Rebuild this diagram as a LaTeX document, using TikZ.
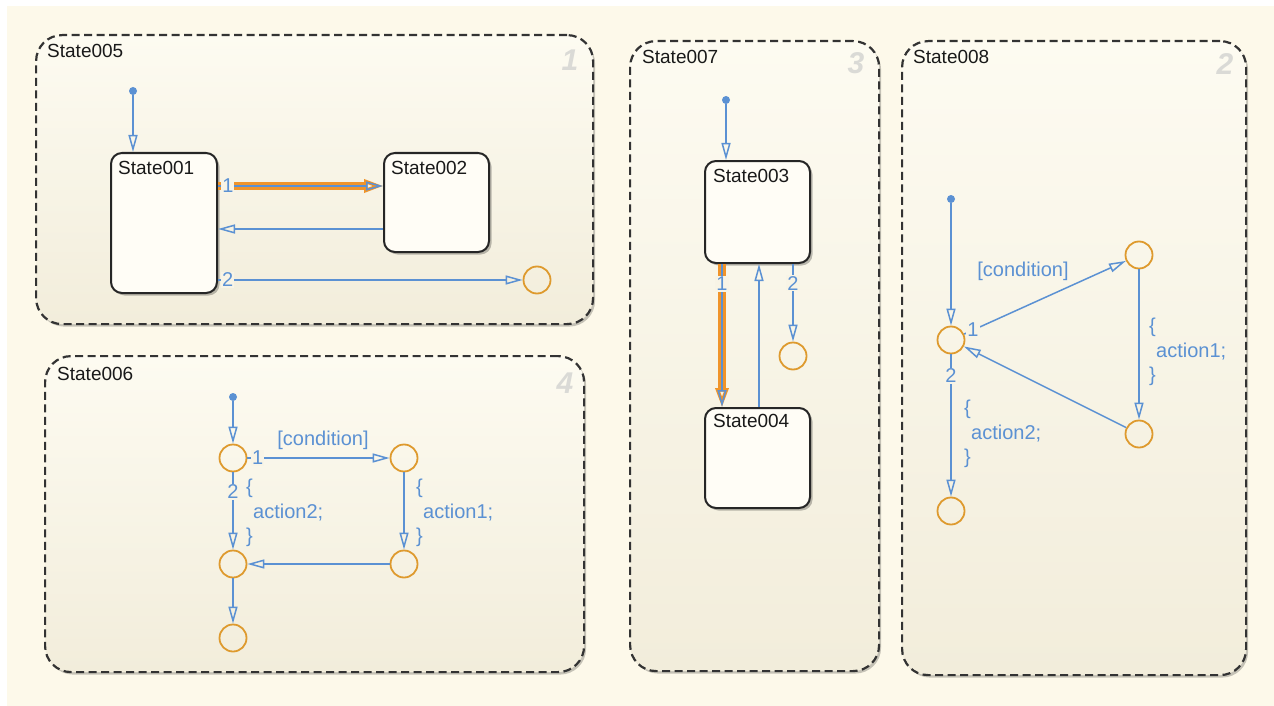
\documentclass[tikz,border=0pt]{standalone}
\usepackage{fontspec}
\setmainfont{Liberation Sans}
\usetikzlibrary{arrows.meta,shadows,calc}
\definecolor{bgc}{HTML}{FDF9EA}
\definecolor{ctop}{HTML}{FDFBF1}
\definecolor{cbot}{HTML}{F2EDDB}
\definecolor{sfill}{HTML}{FFFDF6}
\definecolor{tblue}{HTML}{5B91D3}
\definecolor{jor}{HTML}{DE9A2E}
\definecolor{hor}{HTML}{F0942A}
\definecolor{numgray}{HTML}{DADAD6}
\tikzset{
  container/.style={draw=black!80, line width=2.2pt, dash pattern=on 8pt off 4.5pt,
    rounded corners=26pt, top color=ctop, bottom color=cbot, anchor=north west,
    inner sep=0pt, drop shadow={shadow xshift=2pt, shadow yshift=-2.5pt, opacity=0.22, fill=black}},
  stbox/.style={draw=black!85, line width=2pt, rounded corners=11pt, fill=sfill,
    anchor=north west, inner sep=0pt,
    drop shadow={shadow xshift=2.5pt, shadow yshift=-2.5pt, opacity=0.25, fill=black}},
  stname/.style={anchor=base west, inner sep=0pt, font=\fontsize{19}{23}\selectfont, text=black!90},
  cnum/.style={font=\fontsize{30}{30}\selectfont\bfseries\itshape, text=numgray, inner sep=0pt},
  junc/.style={circle, draw=jor, line width=1.8pt, minimum size=27pt, inner sep=0pt},
  idot/.style={circle, fill=tblue, minimum size=8pt, inner sep=0pt},
  tr/.style={draw=tblue, line width=1.5pt, -{Triangle[open, length=17pt, width=9pt]}},
  hl/.style={draw=hor, line width=8pt, -{Triangle[open, length=19pt, width=13pt, line width=3.5pt]}},
  tlab/.style={text=tblue, font=\fontsize{20}{25}\selectfont, inner sep=1pt, fill=ctop!50!cbot},
  blab/.style={text=tblue, font=\fontsize{20}{24.5}\selectfont, inner sep=0pt, align=left, anchor=north west},
}
\begin{document}
\begin{tikzpicture}[x=1pt, y=-1pt]
\useasboundingbox (0,0) rectangle (1274,706);
\fill[bgc] (7,6) rectangle (1274,706);

% containers
\node[container, minimum width=557pt, minimum height=289pt] (st5) at (35,34) {};
\node[container, minimum width=539pt, minimum height=316pt] (st6) at (44,355) {};
\node[container, minimum width=249pt, minimum height=630pt] (st7) at (629,40) {};
\node[container, minimum width=344pt, minimum height=634pt] (st8) at (901,40) {};

\node[stname] (t5) at (47,58) {State005};
\node[stname] (t6) at (57,380) {State006};
\node[stname] (t7) at (642,64) {State007};
\node[stname] (t8) at (913,64) {State008};

\node[cnum] (n5) at (570,60) {1};
\node[cnum] (n6) at (565,383) {4};
\node[cnum] (n7) at (856,63) {3};
\node[cnum] (n8) at (1225,64) {2};

% ---- State005
\node[stbox, minimum width=106pt, minimum height=140pt] (s1) at (110,152) {};
\node[stbox, minimum width=105pt, minimum height=99pt] (s2) at (383,152) {};
\node[stname] (t1) at (118,174) {State001};
\node[stname] (t2) at (391,174) {State002};
\node[idot] (d5) at (133,91) {};
\node[junc] (c5) at (537,280) {};
\draw[tr] (d5) -- (d5 |- s1.north);
\draw[hl] ($(s1.north east)+(0,34)$) -- ($(s2.north west)+(0,34)$);
\draw[tr] ($(s1.north east)+(0,34)$) -- node[tlab, pos=0.06] {1} ($(s2.north west)+(0,34)$);
\draw[tr] ($(s2.north west)+(0,77)$) -- ($(s1.north east)+(0,77)$);
\draw[tr] (s1.east |- c5) -- node[tlab, pos=0.032] {2} (c5.west);

% ---- State006
\node[idot] (d6) at (233,397) {};
\node[junc] (j1) at (233,458) {};
\node[junc] (j2) at (404,458) {};
\node[junc] (j3) at (404,564) {};
\node[junc] (j4) at (233,564) {};
\node[junc] (j5) at (233,638) {};
\draw[tr] (d6) -- (j1.north);
\draw[tr] (j1.east) -- node[tlab, pos=0.073] {1} (j2.west);
\node[text=tblue, font=\fontsize{20}{25}\selectfont, inner sep=0pt] (cd6) at (323,440) {[condition]};
\draw[tr] (j1.south) -- node[tlab, pos=0.25] {2} (j4.north);
\draw[tr] (j2.south) -- (j3.north);
\draw[tr] (j3.west) -- (j4.east);
\draw[tr] (j4.south) -- (j5.north);
\node[blab] (a62) at (246,479) {\{\\\hspace*{7pt}action2;\\\}};
\node[blab] (a61) at (416,479) {\{\\\hspace*{7pt}action1;\\\}};

% ---- State007
\node[stbox, minimum width=105pt, minimum height=102pt] (s3) at (704,160) {};
\node[stbox, minimum width=105pt, minimum height=100pt] (s4) at (704,407) {};
\node[stname] (t3) at (713,182) {State003};
\node[stname] (t4) at (713,427) {State004};
\node[idot] (d7) at (726,100) {};
\node[junc] (c7) at (793,356) {};
\draw[tr] (d7) -- (d7 |- s3.north);
\draw[hl] ($(s3.south west)+(18,0)$) -- ($(s4.north west)+(18,0)$);
\draw[tr] ($(s3.south west)+(18,0)$) -- node[tlab, pos=0.14] {1} ($(s4.north west)+(18,0)$);
\draw[tr] ($(s4.north west)+(55,0)$) -- ($(s3.south west)+(55,0)$);
\draw[tr] (c7 |- s3.south) -- node[tlab, pos=0.25] {2} (c7.north);

% ---- State008
\node[idot] (d8) at (951,199) {};
\node[junc] (k1) at (951,340) {};
\node[junc] (k2) at (1139,255) {};
\node[junc] (k3) at (1139,434) {};
\node[junc] (k4) at (951,511) {};
\draw[tr] (d8) -- (k1.north);
\draw[tr] (k1) -- node[tlab, pos=0.055] {1} (k2);
\node[text=tblue, font=\fontsize{20}{25}\selectfont, inner sep=0pt] (cd8) at (1023,271) {[condition]};
\draw[tr] (k2.south) -- (k3.north);
\draw[tr] (k3) -- (k1);
\draw[tr] (k1.south) -- node[tlab, pos=0.15] {2} (k4.north);
\node[blab] (a81) at (1149,318) {\{\\\hspace*{7pt}action1;\\\}};
\node[blab] (a82) at (964,400) {\{\\\hspace*{7pt}action2;\\\}};
\end{tikzpicture}
\end{document}
